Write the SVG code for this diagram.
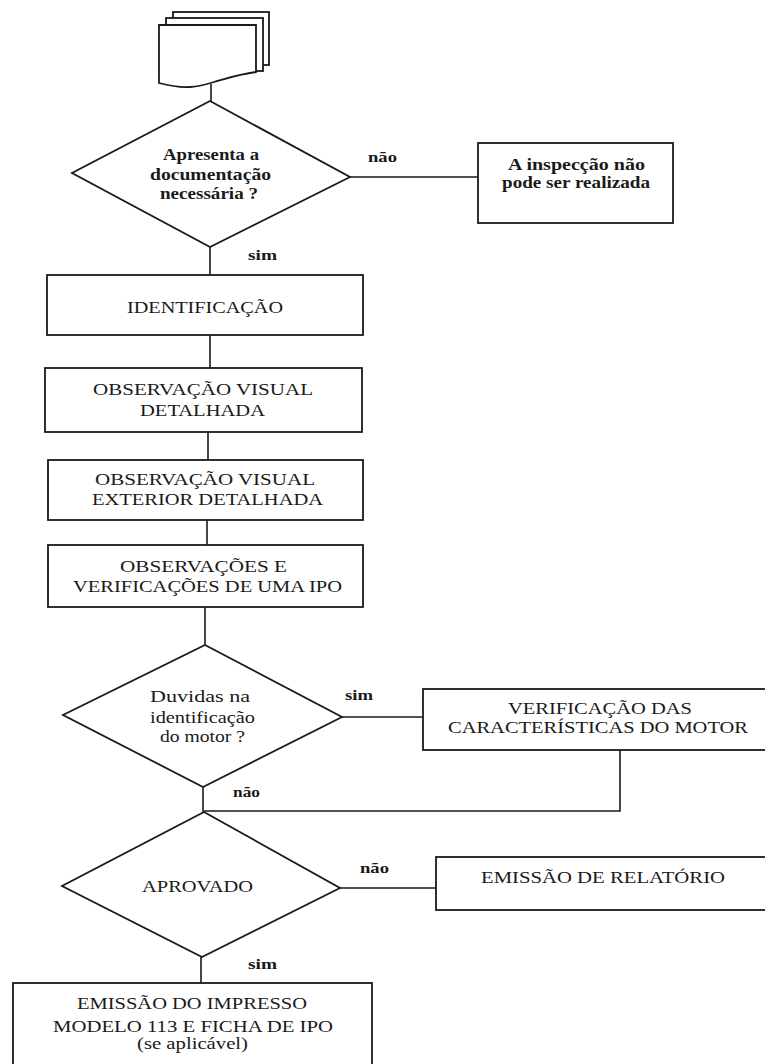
<svg xmlns="http://www.w3.org/2000/svg" width="765" height="1064" viewBox="0 0 765 1064">
<style>
.shape{fill:#fff;stroke:#1a1a1a;stroke-width:1.8}
.ln{fill:none;stroke:#1a1a1a;stroke-width:1.6}
text{font-family:'Liberation Serif','DejaVu Serif','Times New Roman',Times,serif;fill:#1a1a1a}
.s{font-size:16px;font-weight:bold}
.r{font-size:16px;font-weight:normal}
.c{font-size:17px}
.lbl{font-size:15px;font-weight:bold}
</style>
<rect width="765" height="1064" fill="#fff"/>
<g id="connectors">
<path class="ln" d="M211,84 V101"/>
<path class="ln" d="M210,247 V275"/>
<path class="ln" d="M350,177 H478"/>
<path class="ln" d="M210,335 V368"/>
<path class="ln" d="M208,432 V460"/>
<path class="ln" d="M207,520 V545"/>
<path class="ln" d="M205,607 V645"/>
<path class="ln" d="M342,717 H423"/>
<path class="ln" d="M620,750 V811 H204"/>
<path class="ln" d="M203,787 V812"/>
<path class="ln" d="M340,888 H436"/>
<path class="ln" d="M201,957 V983"/>
<text class="lbl" x="248" y="260" textLength="29" lengthAdjust="spacingAndGlyphs">sim</text>
<text class="lbl" x="368" y="162" textLength="29" lengthAdjust="spacingAndGlyphs">não</text>
<text class="lbl" x="345" y="700" textLength="28" lengthAdjust="spacingAndGlyphs">sim</text>
<text class="lbl" x="233" y="797" textLength="27" lengthAdjust="spacingAndGlyphs">não</text>
<text class="lbl" x="360" y="873" textLength="29" lengthAdjust="spacingAndGlyphs">não</text>
<text class="lbl" x="248" y="969" textLength="29" lengthAdjust="spacingAndGlyphs">sim</text>
</g>
<g id="documents">
<rect class="shape" x="173" y="12" width="96" height="53"/>
<rect class="shape" x="166" y="18" width="97" height="53"/>
<path class="shape" d="M159,25 H256 V72 C240,74 228,78 214,82 C198,87 185,90 159,83 Z"/>
</g>
<g id="decision-documentacao">
<polygon class="shape" points="210,101 350,177 210,247 72,173"/>
<text class="s" x="163" y="160" textLength="96" lengthAdjust="spacingAndGlyphs">Apresenta a</text>
<text class="s" x="150" y="180" textLength="121" lengthAdjust="spacingAndGlyphs">documentação</text>
<text class="s" x="160" y="199" textLength="98" lengthAdjust="spacingAndGlyphs">necessária ?</text>
</g>
<g id="inspecao-nao-realizada">
<rect class="shape" x="478" y="143" width="195" height="80"/>
<text class="s" x="508" y="170" textLength="137" lengthAdjust="spacingAndGlyphs">A inspecção não</text>
<text class="s" x="502" y="188" textLength="148" lengthAdjust="spacingAndGlyphs">pode ser realizada</text>
</g>
<g id="identificacao">
<rect class="shape" x="47" y="275" width="316" height="60"/>
<text class="c" x="127" y="313" textLength="156" lengthAdjust="spacingAndGlyphs">IDENTIFICAÇÃO</text>
</g>
<g id="observacao-visual">
<rect class="shape" x="45" y="368" width="317" height="64"/>
<text class="c" x="93" y="395" textLength="220" lengthAdjust="spacingAndGlyphs">OBSERVAÇÃO VISUAL</text>
<text class="c" x="140" y="416" textLength="125" lengthAdjust="spacingAndGlyphs">DETALHADA</text>
</g>
<g id="observacao-exterior">
<rect class="shape" x="48" y="460" width="315" height="60"/>
<text class="c" x="95" y="485" textLength="220" lengthAdjust="spacingAndGlyphs">OBSERVAÇÃO VISUAL</text>
<text class="c" x="92" y="505" textLength="231" lengthAdjust="spacingAndGlyphs">EXTERIOR DETALHADA</text>
</g>
<g id="observacoes-ipo">
<rect class="shape" x="48" y="545" width="315" height="62"/>
<text class="c" x="120" y="572" textLength="167" lengthAdjust="spacingAndGlyphs">OBSERVAÇÕES E</text>
<text class="c" x="73" y="592" textLength="269" lengthAdjust="spacingAndGlyphs">VERIFICAÇÕES DE UMA IPO</text>
</g>
<g id="decision-duvidas">
<polygon class="shape" points="205,645 342,717 203,787 63,715"/>
<text class="r" x="150" y="702" textLength="100" lengthAdjust="spacingAndGlyphs">Duvidas na</text>
<text class="r" x="150" y="723" textLength="105" lengthAdjust="spacingAndGlyphs">identificação</text>
<text class="r" x="160" y="742" textLength="85" lengthAdjust="spacingAndGlyphs">do motor ?</text>
</g>
<g id="verificacao-motor">
<rect class="shape" x="423" y="689" width="360" height="61"/>
<text class="c" x="508" y="714" textLength="184" lengthAdjust="spacingAndGlyphs">VERIFICAÇÃO DAS</text>
<text class="c" x="448" y="733" textLength="300" lengthAdjust="spacingAndGlyphs">CARACTERÍSTICAS DO MOTOR</text>
</g>
<g id="decision-aprovado">
<polygon class="shape" points="204,812 340,888 202,957 62,886"/>
<text class="c" x="142" y="892" textLength="111" lengthAdjust="spacingAndGlyphs">APROVADO</text>
</g>
<g id="emissao-relatorio">
<rect class="shape" x="436" y="857" width="350" height="53"/>
<text class="c" x="481" y="883" textLength="244" lengthAdjust="spacingAndGlyphs">EMISSÃO DE RELATÓRIO</text>
</g>
<g id="emissao-impresso">
<rect class="shape" x="13" y="983" width="359" height="100"/>
<text class="c" x="77" y="1009" textLength="230" lengthAdjust="spacingAndGlyphs">EMISSÃO DO IMPRESSO</text>
<text class="c" x="53" y="1032" textLength="280" lengthAdjust="spacingAndGlyphs">MODELO 113 E FICHA DE IPO</text>
<text class="c" x="137" y="1049" textLength="111" lengthAdjust="spacingAndGlyphs">(se aplicável)</text>
</g>
</svg>
